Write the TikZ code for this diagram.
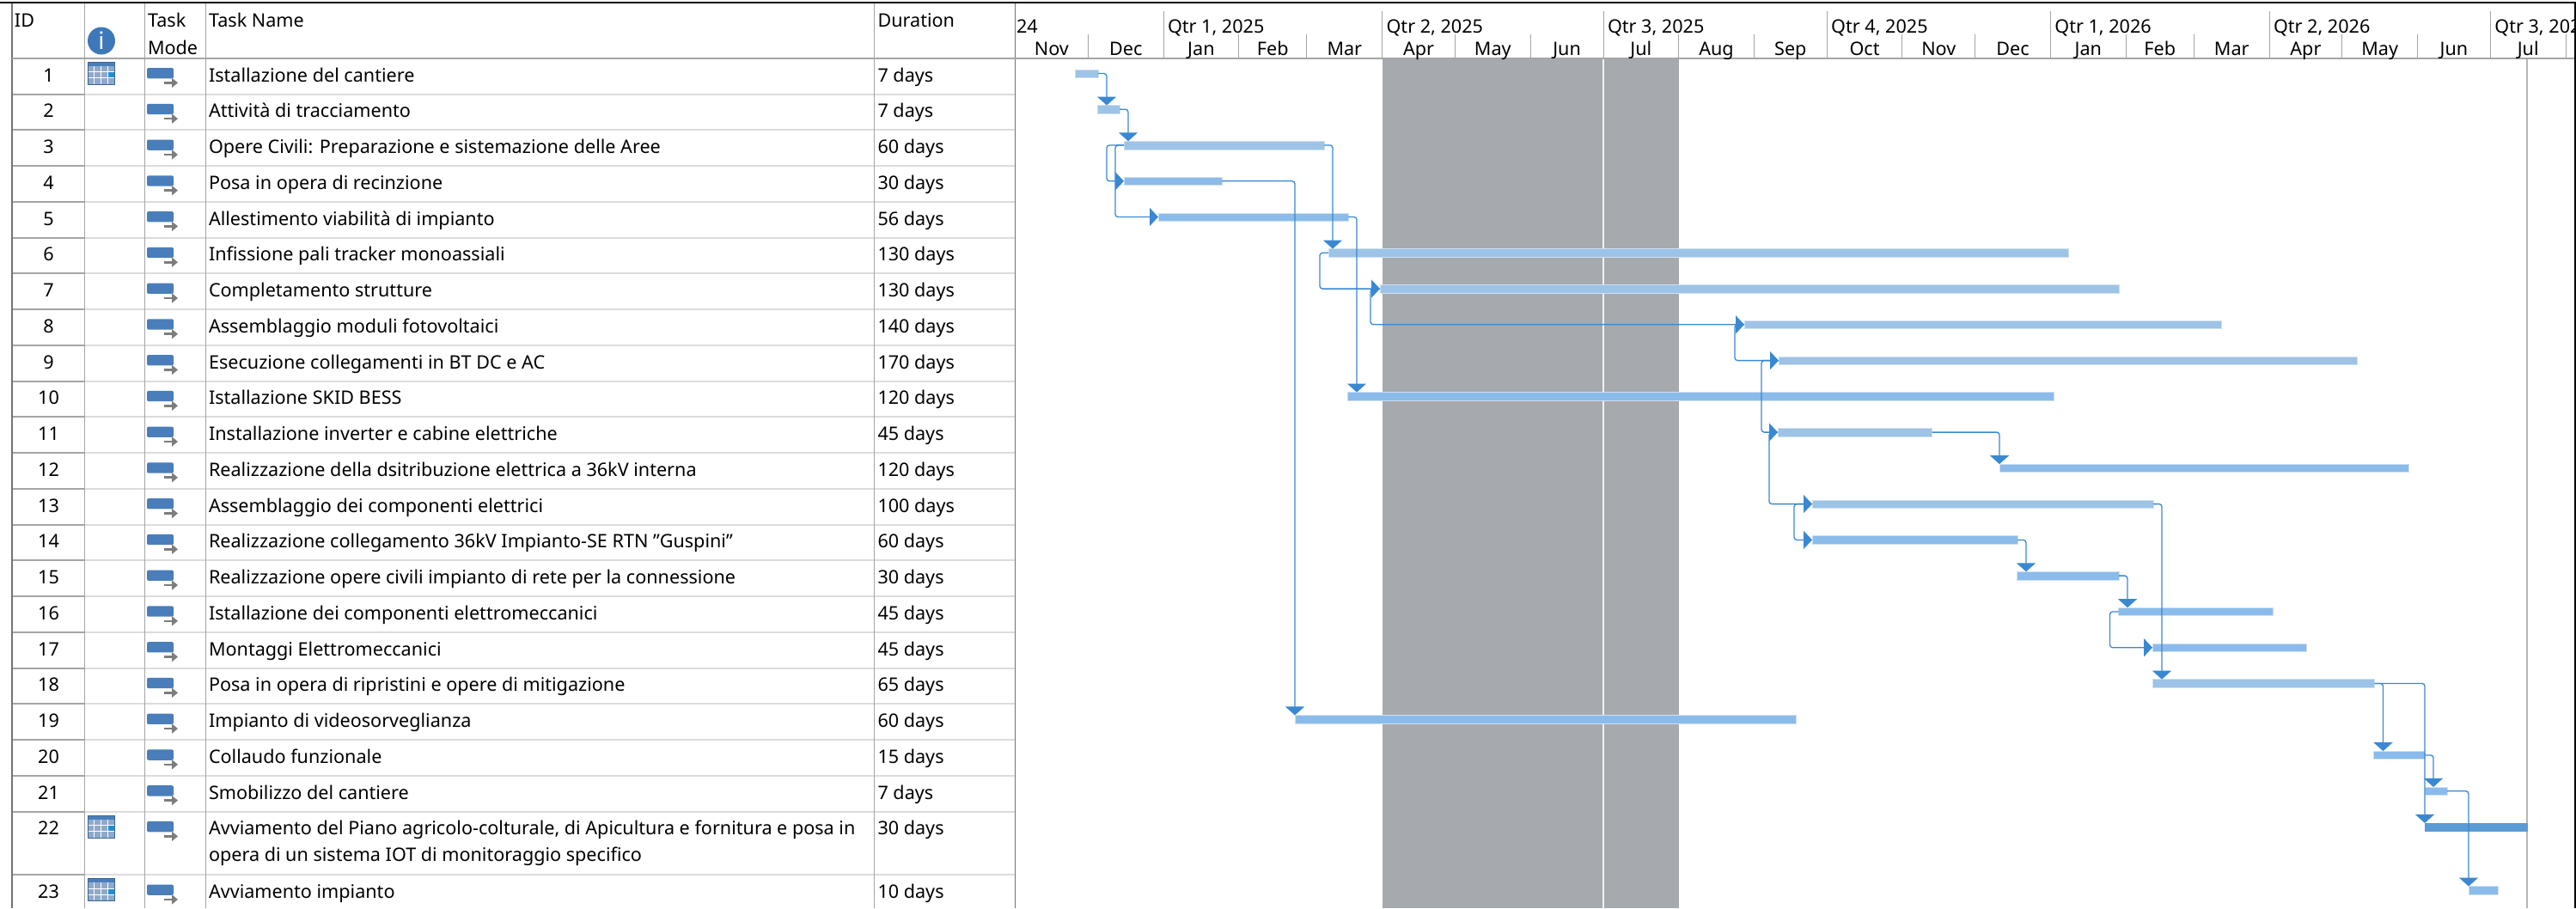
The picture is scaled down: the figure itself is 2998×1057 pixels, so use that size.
\documentclass[tikz,border=0pt]{standalone}
\usepackage{fontspec}
\setmainfont{Noto Sans}
\usetikzlibrary{arrows.meta}
\definecolor{barblue}{RGB}{157,195,230}
\definecolor{barcrit}{RGB}{139,187,234}
\definecolor{bardark}{RGB}{91,155,213}
\definecolor{linkblue}{RGB}{58,136,210}
\definecolor{offgrey}{RGB}{166,169,173}
\definecolor{gridgrey}{RGB}{165,165,165}
\definecolor{rowgrey}{RGB}{220,220,220}
\definecolor{iconblue}{RGB}{74,126,187}
\definecolor{infoblue}{RGB}{62,120,184}
\definecolor{calgrid}{RGB}{143,169,200}
\definecolor{calcell}{RGB}{30,144,216}
\definecolor{arrowgrey}{RGB}{125,125,125}
\tikzset{
  calicon/.pic={
    \fill [calgrid] (0,0) rectangle (31,26);
    \fill [iconblue] (0,0) rectangle (31,5);
    \fill [calcell] (23.25,12) rectangle (31,19);
    \draw [white, line width=0.6pt] (7.75,5) -- (7.75,26) (15.5,5) -- (15.5,26) (23.25,5) -- (23.25,26) (0,12) -- (31,12) (0,19) -- (31,19);
    \draw [iconblue!80!black, line width=0.3pt] (0,0) rectangle (31,26);
  },
  modeicon/.pic={
    \fill [iconblue, rounded corners=1pt] (0,11.2) rectangle (31,23.5);
    \draw [white, line width=2.6pt] (19,28.6) -- (33,28.6);
    \draw [arrowgrey, line width=1.3pt, -{Triangle[length=3.5pt,width=5.5pt]}] (20,28.6) -- (36,28.6);
  }
}
\begin{document}
\begin{tikzpicture}[x=0.5pt,y=-0.5pt]
    \tikzstyle{every node}+=[inner sep=0pt, outer sep=0pt, font=\fontsize{10.8}{12}\selectfont]
    \tikzstyle{txt}=[anchor=base west]
    \tikzstyle{num}=[anchor=base]
    \tikzstyle{taskbar}=[anchor=west, minimum height=4.75pt, fill=barblue, draw=barblue!50!white, line width=0.25pt]
    \tikzstyle{fslink}=[linkblue, line width=0.65pt, rounded corners=1.6pt, -{Triangle[width=11pt,length=5pt]}]
    \tikzstyle{sslink}=[linkblue, line width=0.65pt, rounded corners=1.6pt, -{Triangle[width=10.5pt,length=5pt]}]
    \useasboundingbox (0,0) rectangle (2998,1057);
    \clip (0,0) rectangle (2998,1057);
    \fill [white] (0,0) rectangle (2998,1057);
    \fill [offgrey] (1608.6,67.8) rectangle (1953.6,1057);
    \draw [white!85!offgrey, line width=0.8pt] (1866,67.8) -- (1866,1057);
    \draw [gridgrey!80!white, line width=1pt] (2941,67.8) -- (2941,1057);
    \draw [rowgrey, line width=1pt] (98.5,109.56) -- (1181.8,109.56);
    \draw [rowgrey, line width=1pt] (98.5,151.32) -- (1181.8,151.32);
    \draw [rowgrey, line width=1pt] (98.5,193.08) -- (1181.8,193.08);
    \draw [rowgrey, line width=1pt] (98.5,234.84) -- (1181.8,234.84);
    \draw [rowgrey, line width=1pt] (98.5,276.6) -- (1181.8,276.6);
    \draw [rowgrey, line width=1pt] (98.5,318.36) -- (1181.8,318.36);
    \draw [rowgrey, line width=1pt] (98.5,360.12) -- (1181.8,360.12);
    \draw [rowgrey, line width=1pt] (98.5,401.88) -- (1181.8,401.88);
    \draw [rowgrey, line width=1pt] (98.5,443.64) -- (1181.8,443.64);
    \draw [rowgrey, line width=1pt] (98.5,485.4) -- (1181.8,485.4);
    \draw [rowgrey, line width=1pt] (98.5,527.16) -- (1181.8,527.16);
    \draw [rowgrey, line width=1pt] (98.5,568.92) -- (1181.8,568.92);
    \draw [rowgrey, line width=1pt] (98.5,610.68) -- (1181.8,610.68);
    \draw [rowgrey, line width=1pt] (98.5,652.44) -- (1181.8,652.44);
    \draw [rowgrey, line width=1pt] (98.5,694.2) -- (1181.8,694.2);
    \draw [rowgrey, line width=1pt] (98.5,735.96) -- (1181.8,735.96);
    \draw [rowgrey, line width=1pt] (98.5,777.72) -- (1181.8,777.72);
    \draw [rowgrey, line width=1pt] (98.5,819.48) -- (1181.8,819.48);
    \draw [rowgrey, line width=1pt] (98.5,861.24) -- (1181.8,861.24);
    \draw [rowgrey, line width=1pt] (98.5,903) -- (1181.8,903);
    \draw [rowgrey, line width=1pt] (98.5,944.76) -- (1181.8,944.76);
    \draw [rowgrey, line width=1pt] (98.5,1018.3) -- (1181.8,1018.3);
    \draw [gridgrey, line width=1pt] (14,109.56) -- (98.5,109.56);
    \draw [gridgrey, line width=1pt] (14,151.32) -- (98.5,151.32);
    \draw [gridgrey, line width=1pt] (14,193.08) -- (98.5,193.08);
    \draw [gridgrey, line width=1pt] (14,234.84) -- (98.5,234.84);
    \draw [gridgrey, line width=1pt] (14,276.6) -- (98.5,276.6);
    \draw [gridgrey, line width=1pt] (14,318.36) -- (98.5,318.36);
    \draw [gridgrey, line width=1pt] (14,360.12) -- (98.5,360.12);
    \draw [gridgrey, line width=1pt] (14,401.88) -- (98.5,401.88);
    \draw [gridgrey, line width=1pt] (14,443.64) -- (98.5,443.64);
    \draw [gridgrey, line width=1pt] (14,485.4) -- (98.5,485.4);
    \draw [gridgrey, line width=1pt] (14,527.16) -- (98.5,527.16);
    \draw [gridgrey, line width=1pt] (14,568.92) -- (98.5,568.92);
    \draw [gridgrey, line width=1pt] (14,610.68) -- (98.5,610.68);
    \draw [gridgrey, line width=1pt] (14,652.44) -- (98.5,652.44);
    \draw [gridgrey, line width=1pt] (14,694.2) -- (98.5,694.2);
    \draw [gridgrey, line width=1pt] (14,735.96) -- (98.5,735.96);
    \draw [gridgrey, line width=1pt] (14,777.72) -- (98.5,777.72);
    \draw [gridgrey, line width=1pt] (14,819.48) -- (98.5,819.48);
    \draw [gridgrey, line width=1pt] (14,861.24) -- (98.5,861.24);
    \draw [gridgrey, line width=1pt] (14,903) -- (98.5,903);
    \draw [gridgrey, line width=1pt] (14,944.76) -- (98.5,944.76);
    \draw [gridgrey, line width=1pt] (14,1018.3) -- (98.5,1018.3);
    \draw [gridgrey, line width=0.6pt] (98.5,3) -- (98.5,1057);
    \draw [gridgrey, line width=0.6pt] (168.3,3) -- (168.3,1057);
    \draw [gridgrey, line width=0.6pt] (239.3,3) -- (239.3,1057);
    \draw [gridgrey, line width=0.6pt] (1017.6,3) -- (1017.6,1057);
    \draw [gridgrey!70!black, line width=0.6pt] (1181.8,3) -- (1181.8,1057);
    \draw [gridgrey!70!black, line width=1pt] (14,3) -- (14,1057);
    \draw [gridgrey, line width=0.8pt] (14,67.8) -- (2998,67.8);
    \draw [black, line width=1pt] (0,3) -- (2998,3);
    \draw [black, line width=1pt] (2997,3) -- (2997,1057);
    \draw [gridgrey, line width=0.5pt] (1354,12.7) -- (1354,67.8);
    \draw [gridgrey, line width=0.5pt] (1608.6,12.7) -- (1608.6,67.8);
    \draw [gridgrey, line width=0.5pt] (1866,12.7) -- (1866,67.8);
    \draw [gridgrey, line width=0.5pt] (2126.2,12.7) -- (2126.2,67.8);
    \draw [gridgrey, line width=0.5pt] (2386.4,12.7) -- (2386.4,67.8);
    \draw [gridgrey, line width=0.5pt] (2641,12.7) -- (2641,67.8);
    \draw [gridgrey, line width=0.5pt] (2898.4,12.7) -- (2898.4,67.8);
    \draw [gridgrey, line width=0.5pt] (1266.3,40) -- (1266.3,67.8);
    \draw [gridgrey, line width=0.5pt] (1441.7,40) -- (1441.7,67.8);
    \draw [gridgrey, line width=0.5pt] (1520.9,40) -- (1520.9,67.8);
    \draw [gridgrey, line width=0.5pt] (1693.4,40) -- (1693.4,67.8);
    \draw [gridgrey, line width=0.5pt] (1781.1,40) -- (1781.1,67.8);
    \draw [gridgrey, line width=0.5pt] (1953.6,40) -- (1953.6,67.8);
    \draw [gridgrey, line width=0.5pt] (2041.3,40) -- (2041.3,67.8);
    \draw [gridgrey, line width=0.5pt] (2213.9,40) -- (2213.9,67.8);
    \draw [gridgrey, line width=0.5pt] (2298.7,40) -- (2298.7,67.8);
    \draw [gridgrey, line width=0.5pt] (2474.1,40) -- (2474.1,67.8);
    \draw [gridgrey, line width=0.5pt] (2553.3,40) -- (2553.3,67.8);
    \draw [gridgrey, line width=0.5pt] (2725.8,40) -- (2725.8,67.8);
    \draw [gridgrey, line width=0.5pt] (2813.5,40) -- (2813.5,67.8);
    \draw [gridgrey, line width=0.5pt] (2986,40) -- (2986,67.8);
    \node [txt] (hid) at (17,31.7) {ID};
    \fill [infoblue] (118,47.5) circle (8pt);
    \node [white, font=\fontsize{14}{14}\bfseries] (hinfo) at (118,47.5) {i};
    \node [txt] (hmode1) at (172,31.7) {Task};
    \node [txt] (hmode2) at (172,63.3) {Mode};
    \node [txt] (hname) at (243,31.7) {Task Name};
    \node [txt] (hdur) at (1021.5,31.7) {Duration};
    \node [txt] (q0) at (1183,38.3) {24};
    \node [txt] (q1) at (1359,38.3) {Qtr 1, 2025};
    \node [txt] (q2) at (1613.6,38.3) {Qtr 2, 2025};
    \node [txt] (q3) at (1871,38.3) {Qtr 3, 2025};
    \node [txt] (q4) at (2131.2,38.3) {Qtr 4, 2025};
    \node [txt] (q5) at (2391.4,38.3) {Qtr 1, 2026};
    \node [txt] (q6) at (2646,38.3) {Qtr 2, 2026};
    \node [txt] (q7) at (2903.4,38.3) {Qtr 3, 2026};
    \node [num] (m1) at (1223.9,64.5) {Nov};
    \node [num] (m2) at (1310.2,64.5) {Dec};
    \node [num] (m3) at (1397.9,64.5) {Jan};
    \node [num] (m4) at (1481.3,64.5) {Feb};
    \node [num] (m5) at (1564.8,64.5) {Mar};
    \node [num] (m6) at (1651,64.5) {Apr};
    \node [num] (m7) at (1737.3,64.5) {May};
    \node [num] (m8) at (1823.6,64.5) {Jun};
    \node [num] (m9) at (1909.8,64.5) {Jul};
    \node [num] (m10) at (1997.5,64.5) {Aug};
    \node [num] (m11) at (2083.8,64.5) {Sep};
    \node [num] (m12) at (2170.1,64.5) {Oct};
    \node [num] (m13) at (2256.3,64.5) {Nov};
    \node [num] (m14) at (2342.6,64.5) {Dec};
    \node [num] (m15) at (2430.3,64.5) {Jan};
    \node [num] (m16) at (2513.7,64.5) {Feb};
    \node [num] (m17) at (2597.2,64.5) {Mar};
    \node [num] (m18) at (2683.4,64.5) {Apr};
    \node [num] (m19) at (2769.7,64.5) {May};
    \node [num] (m20) at (2856,64.5) {Jun};
    \node [num] (m21) at (2942.2,64.5) {Jul};
    \pic at (102,71.8) {calicon};
    \pic at (102,948.8) {calicon};
    \pic at (102,1022.3) {calicon};
    \pic at (171,67.8) {modeicon};
    \pic at (171,109.56) {modeicon};
    \pic at (171,151.32) {modeicon};
    \pic at (171,193.08) {modeicon};
    \pic at (171,234.84) {modeicon};
    \pic at (171,276.6) {modeicon};
    \pic at (171,318.36) {modeicon};
    \pic at (171,360.12) {modeicon};
    \pic at (171,401.88) {modeicon};
    \pic at (171,443.64) {modeicon};
    \pic at (171,485.4) {modeicon};
    \pic at (171,527.16) {modeicon};
    \pic at (171,568.92) {modeicon};
    \pic at (171,610.68) {modeicon};
    \pic at (171,652.44) {modeicon};
    \pic at (171,694.2) {modeicon};
    \pic at (171,735.96) {modeicon};
    \pic at (171,777.72) {modeicon};
    \pic at (171,819.48) {modeicon};
    \pic at (171,861.24) {modeicon};
    \pic at (171,903) {modeicon};
    \pic at (171,944.76) {modeicon};
    \pic at (171,1018.3) {modeicon};
    \node [num] (id1) at (56.5,95) {1};
    \node [num] (id2) at (56.5,136.76) {2};
    \node [num] (id3) at (56.5,178.52) {3};
    \node [num] (id4) at (56.5,220.28) {4};
    \node [num] (id5) at (56.5,262.04) {5};
    \node [num] (id6) at (56.5,303.8) {6};
    \node [num] (id7) at (56.5,345.56) {7};
    \node [num] (id8) at (56.5,387.32) {8};
    \node [num] (id9) at (56.5,429.08) {9};
    \node [num] (id10) at (56.5,470.84) {10};
    \node [num] (id11) at (56.5,512.6) {11};
    \node [num] (id12) at (56.5,554.36) {12};
    \node [num] (id13) at (56.5,596.12) {13};
    \node [num] (id14) at (56.5,637.88) {14};
    \node [num] (id15) at (56.5,679.64) {15};
    \node [num] (id16) at (56.5,721.4) {16};
    \node [num] (id17) at (56.5,763.16) {17};
    \node [num] (id18) at (56.5,804.92) {18};
    \node [num] (id19) at (56.5,846.68) {19};
    \node [num] (id20) at (56.5,888.44) {20};
    \node [num] (id21) at (56.5,930.2) {21};
    \node [num] (id22) at (56.5,971.96) {22};
    \node [num] (id23) at (56.5,1045.5) {23};
    \node [txt] (tn1) at (243,95) {Istallazione del cantiere};
    \node [txt] (tn2) at (243,136.76) {Attività di tracciamento};
    \node [txt] (tn3) at (243,178.52) {Opere Civili: Preparazione e sistemazione delle Aree};
    \node [txt] (tn4) at (243,220.28) {Posa in opera di recinzione};
    \node [txt] (tn5) at (243,262.04) {Allestimento viabilità di impianto};
    \node [txt] (tn6) at (243,303.8) {Infissione pali tracker monoassiali};
    \node [txt] (tn7) at (243,345.56) {Completamento strutture};
    \node [txt] (tn8) at (243,387.32) {Assemblaggio moduli fotovoltaici};
    \node [txt] (tn9) at (243,429.08) {Esecuzione collegamenti in BT DC e AC};
    \node [txt] (tn10) at (243,470.84) {Istallazione SKID BESS};
    \node [txt] (tn11) at (243,512.6) {Installazione inverter e cabine elettriche};
    \node [txt] (tn12) at (243,554.36) {Realizzazione della dsitribuzione elettrica a 36kV interna};
    \node [txt] (tn13) at (243,596.12) {Assemblaggio dei componenti elettrici};
    \node [txt] (tn14) at (243,637.88) {Realizzazione collegamento 36kV Impianto-SE RTN "Guspini"};
    \node [txt] (tn15) at (243,679.64) {Realizzazione opere civili impianto di rete per la connessione};
    \node [txt] (tn16) at (243,721.4) {Istallazione dei componenti elettromeccanici};
    \node [txt] (tn17) at (243,763.16) {Montaggi Elettromeccanici};
    \node [txt] (tn18) at (243,804.92) {Posa in opera di ripristini e opere di mitigazione};
    \node [txt] (tn19) at (243,846.68) {Impianto di videosorveglianza};
    \node [txt] (tn20) at (243,888.44) {Collaudo funzionale};
    \node [txt] (tn21) at (243,930.2) {Smobilizzo del cantiere};
    \node [txt] (tn22a) at (243,971.96) {Avviamento del Piano agricolo-colturale, di Apicultura e fornitura e posa in};
    \node [txt] (tn22b) at (243,1002) {opera di un sistema IOT di monitoraggio specifico};
    \node [txt] (tn23) at (243,1045.5) {Avviamento impianto};
    \node [txt] (du1) at (1021.5,95) {7 days};
    \node [txt] (du2) at (1021.5,136.76) {7 days};
    \node [txt] (du3) at (1021.5,178.52) {60 days};
    \node [txt] (du4) at (1021.5,220.28) {30 days};
    \node [txt] (du5) at (1021.5,262.04) {56 days};
    \node [txt] (du6) at (1021.5,303.8) {130 days};
    \node [txt] (du7) at (1021.5,345.56) {130 days};
    \node [txt] (du8) at (1021.5,387.32) {140 days};
    \node [txt] (du9) at (1021.5,429.08) {170 days};
    \node [txt] (du10) at (1021.5,470.84) {120 days};
    \node [txt] (du11) at (1021.5,512.6) {45 days};
    \node [txt] (du12) at (1021.5,554.36) {120 days};
    \node [txt] (du13) at (1021.5,596.12) {100 days};
    \node [txt] (du14) at (1021.5,637.88) {60 days};
    \node [txt] (du15) at (1021.5,679.64) {30 days};
    \node [txt] (du16) at (1021.5,721.4) {45 days};
    \node [txt] (du17) at (1021.5,763.16) {45 days};
    \node [txt] (du18) at (1021.5,804.92) {65 days};
    \node [txt] (du19) at (1021.5,846.68) {60 days};
    \node [txt] (du20) at (1021.5,888.44) {15 days};
    \node [txt] (du21) at (1021.5,930.2) {7 days};
    \node [txt] (du22) at (1021.5,971.96) {30 days};
    \node [txt] (du23) at (1021.5,1045.5) {10 days};
    \node [taskbar, minimum width=13.5pt] (b1) at (1251,85.5) {};
    \node [taskbar, minimum width=13pt] (b2) at (1277,127.3) {};
    \node [taskbar, minimum width=116.5pt] (b3) at (1308,169) {};
    \node [taskbar, fill=barcrit, minimum width=57pt] (b4) at (1308,210.8) {};
    \node [taskbar, fill=barcrit, minimum width=110.5pt] (b5) at (1348,252.5) {};
    \node [taskbar, minimum width=430.5pt] (b6) at (1546,294.3) {};
    \node [taskbar, minimum width=430.25pt] (b7) at (1606,336.1) {};
    \node [taskbar, minimum width=277.5pt] (b8) at (2030,377.8) {};
    \node [taskbar, minimum width=336.5pt] (b9) at (2070,419.6) {};
    \node [taskbar, fill=barcrit, minimum width=411pt] (b10) at (1568,461.3) {};
    \node [taskbar, minimum width=89.75pt] (b11) at (2069,503.1) {};
    \node [taskbar, fill=barcrit, minimum width=238pt] (b12) at (2327,544.9) {};
    \node [taskbar, minimum width=198.5pt] (b13) at (2109,586.6) {};
    \node [taskbar, fill=barcrit, minimum width=119.5pt] (b14) at (2109,628.4) {};
    \node [taskbar, fill=barcrit, minimum width=59.5pt] (b15) at (2347,670.1) {};
    \node [taskbar, fill=barcrit, minimum width=89.75pt] (b16) at (2465.5,711.9) {};
    \node [taskbar, fill=barcrit, minimum width=89.5pt] (b17) at (2505,753.7) {};
    \node [taskbar, minimum width=129.25pt] (b18) at (2505,795.4) {};
    \node [taskbar, fill=barcrit, minimum width=291.5pt] (b19) at (1507,837.2) {};
    \node [taskbar, fill=barcrit, minimum width=30pt] (b20) at (2762,878.9) {};
    \node [taskbar, fill=barcrit, minimum width=13pt] (b21) at (2822,920.7) {};
    \node [taskbar, fill=bardark, draw=bardark, minimum width=59.5pt] (b22) at (2822,962.7) {};
    \node [taskbar, fill=barcrit, minimum width=17.25pt] (b23) at (2873,1036.3) {};
    \draw [fslink] (b1.east) -| ([xshift=5pt]b1.east |- b2.north);
    \draw [fslink] (b2.east) -| ([xshift=5pt]b2.east |- b3.north);
    \draw [sslink] (b3.west) -- ([xshift=-10pt]b3.west) |- (b4.west);
    \draw [sslink] (b3.west) -- ([xshift=-5pt]b3.west) |- (b5.west);
    \draw [fslink] (b3.east) -| ([xshift=5pt]b3.east |- b6.north);
    \draw [fslink] (b4.east) -| (b19.north west);
    \draw [fslink] (b5.east) -| ([xshift=5pt]b5.east |- b10.north);
    \draw [sslink] (b6.west) -- ([xshift=-5pt]b6.west) |- (b7.west);
    \draw [sslink] (b7.west) -- ([xshift=-5.5pt]b7.west) |- (b8.west);
    \draw [sslink] (b8.west) -- ([xshift=-5.5pt]b8.west) |- (b9.west);
    \draw [sslink] (b9.west) -- ([xshift=-10pt]b9.west) |- (b11.west);
    \draw [fslink] (b11.east) -| (b12.north west);
    \draw [sslink] (b11.west) -- ([xshift=-5pt]b11.west) |- (b13.west);
    \draw [sslink] (b13.west) -- ([xshift=-10.5pt]b13.west) |- (b14.west);
    \draw [fslink] (b14.east) -| ([xshift=5pt]b14.east |- b15.north);
    \draw [fslink] (b15.east) -| ([xshift=5pt]b15.east |- b16.north);
    \draw [sslink] (b16.west) -- ([xshift=-5pt]b16.west) |- (b17.west);
    \draw [fslink] (b13.east) -| ([xshift=5pt]b13.east |- b18.north);
    \draw [fslink] (b18.east) -| ([xshift=5pt]b18.east |- b20.north);
    \draw [fslink] (b18.east) -| (b22.north west);
    \draw [fslink] (b20.east) -| ([xshift=5pt]b20.east |- b21.north);
    \draw [fslink] (b21.east) -| (b23.north west);
\end{tikzpicture}
\end{document}
